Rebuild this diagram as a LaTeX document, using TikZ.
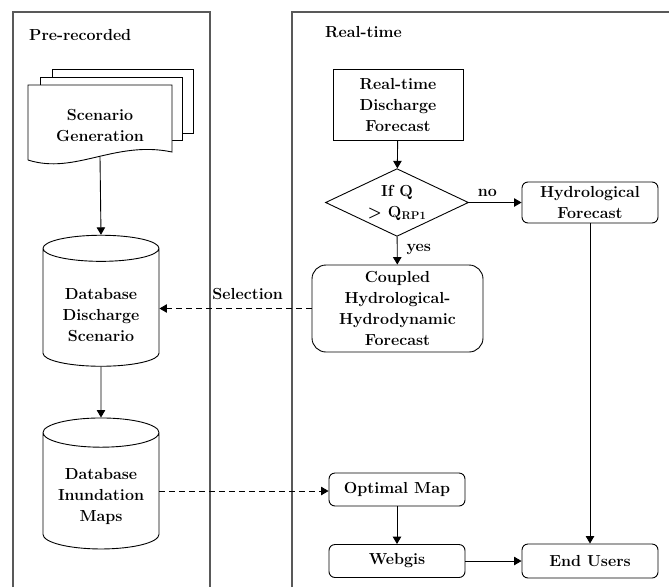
\documentclass[tikz,border=0pt]{standalone}
\usetikzlibrary{arrows.meta}
\usetikzlibrary{shapes.geometric}

\begin{document}
\begin{tikzpicture}[x=1pt,y=-1pt,
  font=\fontsize{16}{21}\selectfont\bfseries,
  >={Triangle[length=7.5pt,width=8.5pt]},
  every node/.style={align=center,inner sep=0pt},
  panel/.style={black!65,line width=1.1pt},
  flow/.style={black,line width=0.9pt},
  sqbox/.style={draw,flow,fill=white,minimum width=130pt,minimum height=71pt},
  rbox/.style={draw,flow,fill=white,rounded corners=6pt,minimum width=136pt},
  decide/.style={draw,flow,diamond,aspect=1.81,minimum width=143pt},
  dbase/.style={draw,flow,fill=white,cylinder,shape border rotate=90,aspect=0.34,minimum width=116pt,minimum height=131pt},
  link/.style={flow,dash pattern=on 6pt off 4pt}
]

\useasboundingbox (0,0) rectangle (669,587);

% the two panels
\draw[panel] (13,587) -- (13,12) -- (210,12) -- (210,587);
\draw[panel] (292,587) -- (292,12) -- (669,12);

\node[anchor=west] (pre) at (29,35) {Pre-recorded};
\node[anchor=west] (rt) at (325,32) {Real-time};

% stack of scenario sheets
\draw[flow,fill=white] (52,77) -- (52,69) -- (193,69) -- (193,133) -- (182,133);
\draw[flow,fill=white] (40,85) -- (40,77) -- (182,77) -- (182,140) -- (172,140);
\draw[flow,fill=white] (28,160) -- (28,85) -- (172,85) -- (172,152) .. controls (115,140) and (75,175) .. (28,160);
\node (scen) at (100,126) {Scenario\\Generation};
\coordinate (scenbot) at (100,157);

% databases (the rule pushes the text a little below the middle)
\node[dbase] (dbq) at (101,307.5) {\rule{0pt}{27pt}Database\\Discharge\\Scenario};
\node[dbase] (dbi) at (101,491) {\rule{0pt}{23pt}Database\\Inundation\\Maps};

% real-time chain
\node[sqbox] (rtq) at (398,104.5) {Real-time\\Discharge\\Forecast};
\node[decide] (ifq) at (397,202.5) {If Q\\> Q\textsubscript{RP1}};
\node[rbox,minimum height=41pt] (hyd) at (590,202.5) {Hydrological\\Forecast};
\node[rbox,rounded corners=14pt,minimum width=171pt,minimum height=87pt] (cpl) at (397.5,308.5) {Coupled\\Hydrological-\\Hydrodynamic\\Forecast};
\node[rbox,minimum height=33pt] (opt) at (397,489.5) {Optimal Map};
\node[rbox,minimum height=33pt] (web) at (397,561) {Webgis};
\node[rbox,minimum height=34pt] (usr) at (590,561) {End Users};

\draw[flow,->] (scenbot) -- (dbq.north);
\draw[flow,->] (dbq.south) -- (dbi.north);
\draw[flow,->] (rtq) -- (ifq);
\draw[flow,->] (ifq) -- node[above=5pt,pos=0.35] {no} (hyd);
\draw[flow,->] (ifq) -- node[right=9pt,pos=0.45] {yes} (cpl);
\draw[link,->] (cpl.west) -- node[above=8pt,pos=0.42] {Selection} (cpl.west -| dbq.east);
\draw[link,->] (dbi.east) -- (dbi.east -| opt.west);
\draw[flow,->] (opt) -- (web);
\draw[flow,->] (web) -- (usr);
\draw[flow,->] (hyd) -- (usr);

\end{tikzpicture}
\end{document}
